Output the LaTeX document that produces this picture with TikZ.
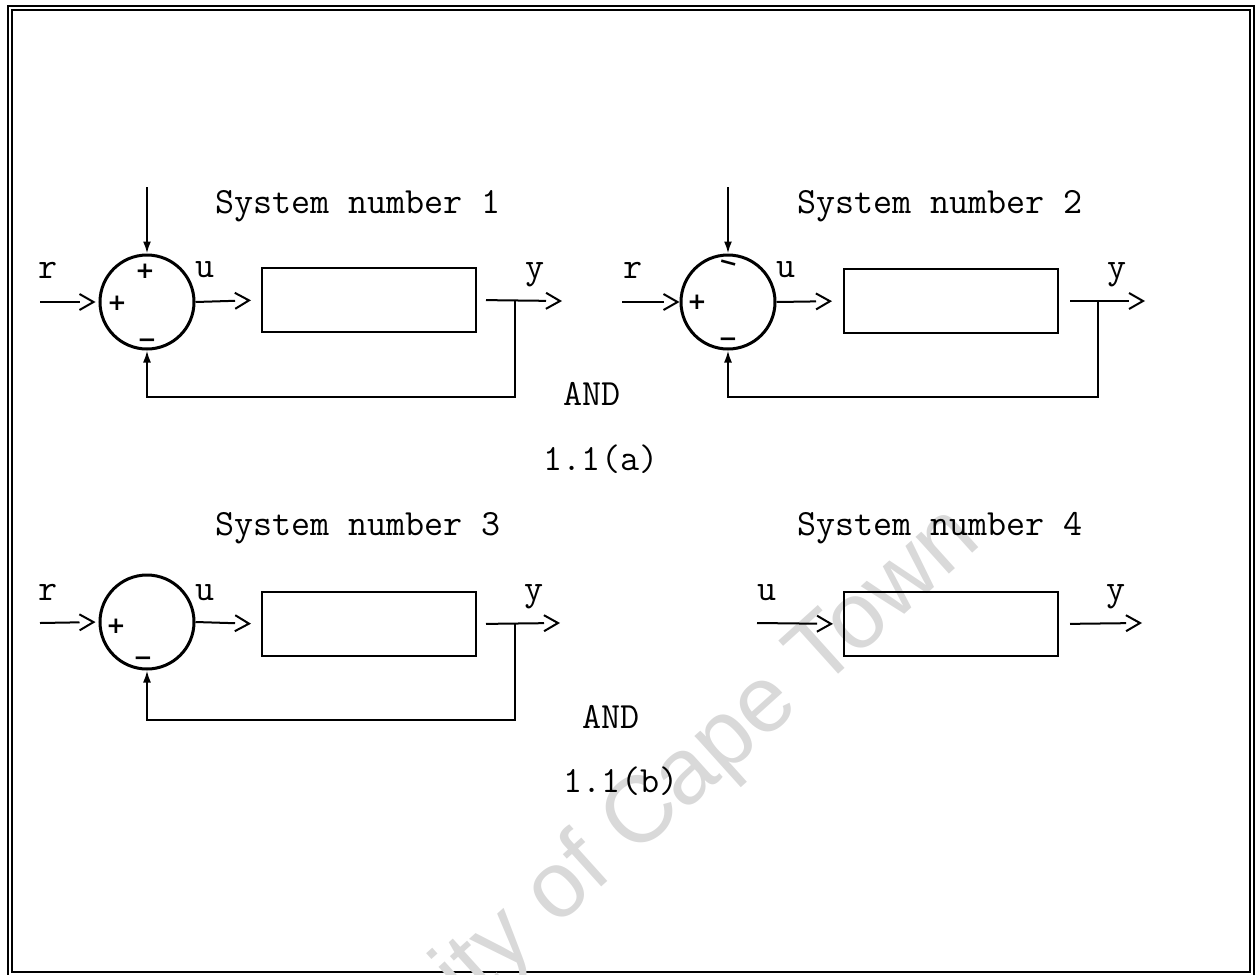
\documentclass[tikz,border=0pt]{standalone}
\usepackage{fontspec}
\usetikzlibrary{arrows.meta}
\newfontfamily\sg{DejaVu Sans}
\newfontfamily\wmf{Liberation Sans}
\pgfdeclarearrow{
  name = Chev,
  setup code = {
    \pgfarrowssettipend{0pt}
    \pgfarrowssetlineend{-14pt}
    \pgfarrowssetbackend{-14pt}
  },
  drawing code = {
    \pgfpathmoveto{\pgfqpoint{-14pt}{8pt}}
    \pgfpathlineto{\pgfqpoint{0pt}{0pt}}
    \pgfpathlineto{\pgfqpoint{-14pt}{-8pt}}
    \pgfusepathqstroke
  }
}
\tikzset{
  lab/.style={font=\ttfamily\fontsize{37}{41}\selectfont\addfontfeature{FakeBold=2.6}, anchor=base, inner sep=0pt},
  sgn/.style={font=\sg\bfseries\fontsize{23}{26}\selectfont, inner sep=0pt},
  sum/.style={circle, draw, line width=3pt, minimum size=94pt, inner sep=0pt},
  blk/.style={rectangle, draw, line width=2pt, minimum width=214pt, minimum height=64pt, inner sep=0pt},
  wire/.style={line width=2pt},
  fwd/.style={wire, -Chev},
  fb/.style={wire, -{Latex[length=12pt,width=8pt]}},
}
\begin{document}
\begin{tikzpicture}[x=1pt, y=-1pt]
\useasboundingbox (0,0) rectangle (1259,975);
% frame
\draw[line width=2.5pt] (8,975) -- (8,6) -- (1254,6) -- (1254,975);
\draw[line width=2.5pt] (12,10) rectangle (1250,972);

% watermark
\begin{scope}
\clip (0,0) rectangle (1259,975);
\node[font=\wmf\fontsize{94}{100}\selectfont, text=black!15, rotate=42, anchor=base east, inner sep=0pt] (wm) at (984,543) {University of Cape Town};
\end{scope}

% ===== System 1 =====
\node[lab] (t1) at (358,213) {System number 1};
\node[sum] (c1) at (147,302) {};
\node[blk] (b1) at (369,300) {};
\coordinate (r1in) at (40,302);
\coordinate (top1) at (147,187);
\coordinate (y1out) at (560,301);
\coordinate (j1) at (515,301);
\draw[fwd, shorten >=5pt] (r1in) -- (c1.west);
\draw[fb] (top1) -- (c1.north);
\draw[fwd, shorten >=12pt] (c1.east) -- (b1.west);
\draw[fwd, shorten <=9pt] (b1.east) -- (y1out);
\draw[fb] (j1) -- (515,397) -| (c1.south);
\node[lab] (r1) at (48,278) {r};
\node[lab] (u1) at (205,277) {u};
\node[lab] (y1) at (535,278) {y};
\node[sgn] (s1a) at (145,271) {+};
\node[sgn] (s1b) at (117,303) {+};
\node[sgn] (s1c) at (147,343) {−};

% ===== System 2 =====
\node[lab] (t2) at (940,213) {System number 2};
\node[sum] (c2) at (728,302) {};
\node[blk] (b2) at (951,301) {};
\coordinate (r2in) at (622,302);
\coordinate (top2) at (728,187);
\coordinate (y2out) at (1143,301);
\coordinate (j2) at (1098,301);
\draw[fwd, shorten >=2pt] (r2in) -- (c2.west);
\draw[fb] (top2) -- (c2.north);
\draw[fwd, shorten >=13pt] (c2.east) -- (b2.west);
\draw[fwd, shorten <=11pt] (b2.east) -- (y2out);
\draw[fb] (j2) -- (1098,397) -| (c2.south);
\node[lab] (r2) at (633,278) {r};
\node[lab] (u2) at (786,277) {u};
\node[lab] (y2) at (1117,278) {y};
\node[sgn, rotate=-15] (s2a) at (728,266) {−};
\node[sgn] (s2b) at (697,302) {+};
\node[sgn] (s2c) at (728,342) {−};

\node[lab] (and1) at (592,405) {AND};
\node[lab] (fa) at (601,470) {1.1(a)};

% ===== System 3 =====
\node[lab] (t3) at (358,535) {System number 3};
\node[sum] (c3) at (147,622) {};
\node[blk] (b3) at (369,624) {};
\coordinate (r3in) at (40,623);
\coordinate (y3out) at (558,623);
\coordinate (j3) at (515,623);
\draw[fwd, shorten >=5pt] (r3in) -- (c3.west);
\draw[fwd, shorten >=12pt] (c3.east) -- (b3.west);
\draw[fwd, shorten <=9pt] (b3.east) -- (y3out);
\draw[fb] (j3) -- (515,720) -| (c3.south);
\node[lab] (r3) at (48,600) {r};
\node[lab] (u3) at (205,600) {u};
\node[lab] (y3) at (534,600) {y};
\node[sgn] (s3a) at (116,626) {+};
\node[sgn] (s3b) at (143,661) {−};

% ===== System 4 =====
\node[lab] (t4) at (940,535) {System number 4};
\node[blk] (b4) at (951,624) {};
\coordinate (u4in) at (757,623);
\coordinate (y4out) at (1140,623);
\draw[fwd, shorten >=12pt] (u4in) -- (b4.west);
\draw[fwd, shorten <=11pt] (b4.east) -- (y4out);
\node[lab] (u4) at (767,600) {u};
\node[lab] (y4) at (1116,600) {y};

\node[lab] (and2) at (611,728) {AND};
\node[lab] (fb2) at (621,792) {1.1(b)};
\end{tikzpicture}
\end{document}
